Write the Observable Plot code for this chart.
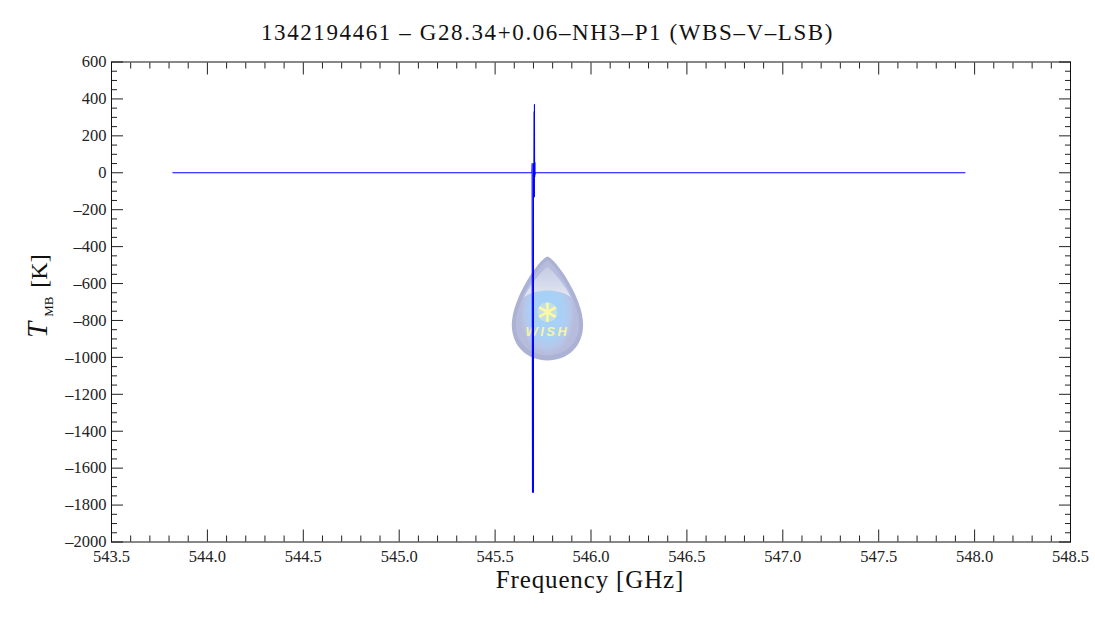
<!DOCTYPE html>
<html><head><meta charset="utf-8">
<script src="https://cdn.jsdelivr.net/npm/d3@7"></script>
<script src="https://cdn.jsdelivr.net/npm/@observablehq/plot@0.6"></script>
<style>
html,body{margin:0;padding:0;background:#fff;width:1095px;height:618px;overflow:hidden}
#title{height:46px;padding-top:18px;box-sizing:border-box;text-align:center;font:23px/30px "Liberation Serif",serif;letter-spacing:1.6px;color:#111;white-space:nowrap}
svg{display:block}
</style></head><body>
<div id="title"></div>
<div id="chart"></div>
<script>
const titleText = "1342194461 – G28.34+0.06–NH3–P1 (WBS–V–LSB)";
const xLabel = "Frequency [GHz]";
const xMajor = [543.5,544,544.5,545,545.5,546,546.5,547,547.5,548,548.5];
const xMinor = [543.6,543.7,543.8,543.9,544.1,544.2,544.3,544.4,544.6,544.7,544.8,544.9,545.1,545.2,545.3,545.4,545.6,545.7,545.8,545.9,546.1,546.2,546.3,546.4,546.6,546.7,546.8,546.9,547.1,547.2,547.3,547.4,547.6,547.7,547.8,547.9,548.1,548.2,548.3,548.4];
const yMajor = [600,400,200,0,-200,-400,-600,-800,-1000,-1200,-1400,-1600,-1800,-2000];
const yMinor = [550,500,450,350,300,250,150,100,50,-50,-100,-150,-250,-300,-350,-450,-500,-550,-650,-700,-750,-850,-900,-950,-1050,-1100,-1150,-1250,-1300,-1350,-1450,-1500,-1550,-1650,-1700,-1750,-1850,-1900,-1950];
const freq = [543.82,545.000,545.692,545.693,545.695,545.700,545.700,545.701,545.702,545.702,545.703,545.703,545.704,545.705,545.705,545.706,545.706,545.707,545.708,545.708,545.710,546.500,547.950];
const tmb  = [0,0,0,50,-1730,-1730,50,-130,50,-130,330,-130,330,-130,370,-20,55,-20,55,-10,0,0,0];
const logoX = [545.773], logoY = [-738], starY = [-755], wishY = [-862];
const blue = "#0000ff", ink = "#222";
document.getElementById("title").textContent = titleText;
const drop = `<svg xmlns="http://www.w3.org/2000/svg" viewBox="0 0 72 105" width="72" height="105"><defs><filter id="b"><feGaussianBlur stdDeviation="0.7"/></filter><radialGradient id="a" cx=".5" cy=".56" r=".43"><stop offset="0" stop-color="#a3d2fb"/><stop offset=".6" stop-color="#a9d0f5"/><stop offset=".85" stop-color="#b6c7e9"/><stop offset="1" stop-color="#b7bcdc"/></radialGradient><linearGradient id="h" x1="0" y1="0" x2="0" y2="1"><stop offset="0" stop-color="#c4cbe3"/><stop offset="1" stop-color="#e3e7f3"/></linearGradient></defs><g filter="url(#b)"><path d="M36 1C44 3 71 42 71 68C71 90 55 103 36 103C17 103 1 90 1 68C1 42 28 3 36 1Z" fill="#acb2d4"/><path d="M36 5C44 9 67 44 67 68C67 86 53 98 36 98C19 98 5 86 5 68C5 44 28 9 36 5Z" fill="url(#a)"/><path d="M36 11C42 15 55 32 59 41C48 32 24 32 13 41C17 32 30 15 36 11Z" fill="url(#h)"/></g></svg>`;
const dropSrc = "data:image/svg+xml;utf8," + encodeURIComponent(drop);
const font = '"Liberation Serif",serif';
const axisCommon = {stroke: ink, strokeWidth: 1, tickSize: -12, label: null};
const p = Plot.plot({
  width: 1095, height: 572,
  marginLeft: 111, marginRight: 25, marginTop: 15.5, marginBottom: 76.5,
  style: {fontFamily: font, fontSize: "16.5px", color: "#222", background: "#fff"},
  x: {domain: [543.5, 548.5], label: null},
  y: {domain: [-2000, 600], label: null},
  marks: [
    Plot.image(logoX.map((x,i)=>({x,y:logoY[i]})), {x:"x", y:"y", src:()=>dropSrc, width:74, height:107}),
    Plot.dot(logoX.map((x,i)=>({x,y:starY[i]})), {x:"x", y:"y", r:10, fill:"#fdf9c0", fillOpacity:0.35}),
    Plot.dot(logoX.map((x,i)=>({x,y:starY[i]})), {x:"x", y:"y", symbol:"asterisk", r:9, stroke:"#fdf9a0", strokeWidth:2.6}),
    Plot.text(logoX.map((x,i)=>({x,y:wishY[i]})), {x:"x", y:"y", text:()=>"WISH", fill:"#f6f4a6", fontSize:13, fontWeight:"bold", fontStyle:"italic", fontFamily:'"Liberation Sans",sans-serif', className:"wish"}),
    Plot.line(freq.map((f,i)=>({f,t:tmb[i]})), {x:"f", y:"t", stroke: blue, strokeWidth: 1.1, curve:"linear"}),
    Plot.axisX({...axisCommon, anchor:"bottom", ticks:xMajor, tickFormat:d=>d.toFixed(1), tickPadding:20, fill:"#222"}),
    Plot.axisX({...axisCommon, anchor:"bottom", ticks:xMinor, tickSize:-6, fill:"none"}),
    Plot.axisX({...axisCommon, anchor:"top", ticks:xMajor, fill:"none"}),
    Plot.axisX({...axisCommon, anchor:"top", ticks:xMinor, tickSize:-6, fill:"none"}),
    Plot.axisY({...axisCommon, anchor:"left", ticks:yMajor, tickFormat:d=>String(d).replace("-","–"), tickPadding:17, fill:"#222"}),
    Plot.axisY({...axisCommon, anchor:"left", ticks:yMinor, tickSize:-6, fill:"none"}),
    Plot.axisY({...axisCommon, anchor:"right", ticks:yMajor, fill:"none"}),
    Plot.axisY({...axisCommon, anchor:"right", ticks:yMinor, tickSize:-6, fill:"none"}),
    Plot.frame({stroke:"#111", strokeWidth:1})
  ]
});
document.getElementById("chart").append(p);
const svg = d3.select(p);
svg.selectAll(".wish text").attr("letter-spacing","2.5px");
svg.append("text").attr("x",590).attr("y",542).attr("text-anchor","middle")
  .attr("font-size",25).attr("letter-spacing","0.85px").attr("fill","#111").text(xLabel);
const yl = svg.append("text").attr("transform","translate(47,292) rotate(-90)").attr("text-anchor","start").attr("font-size",24).attr("fill","#111");
yl.append("tspan").attr("font-style","italic").attr("font-size",29).text("T");
yl.append("tspan").attr("font-size",13).attr("dy",6).attr("dx",5).text("MB");
yl.append("tspan").attr("dy",-6).attr("dx",9).text("[K]");
</script>
</body></html>
